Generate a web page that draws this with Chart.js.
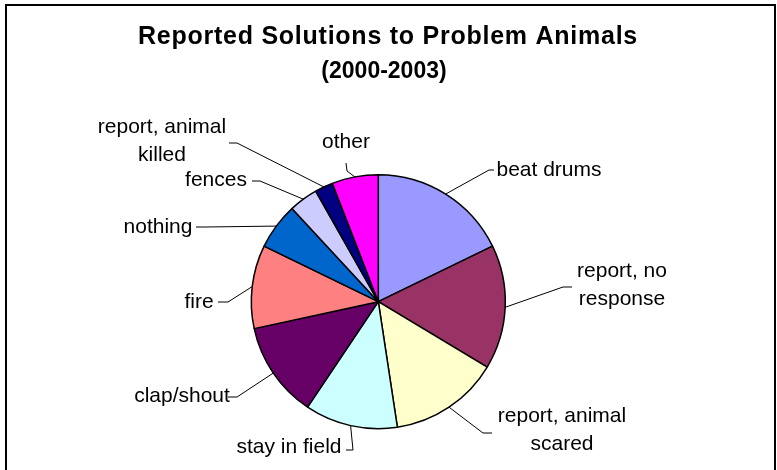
<!DOCTYPE html>
<html>
<head>
<meta charset="utf-8">
<title>Reported Solutions to Problem Animals</title>
<script src="https://cdn.jsdelivr.net/npm/chart.js@4.4.1/dist/chart.umd.min.js"></script>
<style>
  html, body { margin: 0; padding: 0; background: #fff; }
  canvas { display: block; }
</style>
</head>
<body>
<canvas id="pie" width="777" height="470"></canvas>
<script>
// categories (multi-line where the callout wraps) and their shares in percent
var categories = [
    ['beat drums'],
    ['report, no', 'response'],
    ['report, animal', 'scared'],
    ['stay in field'],
    ['clap/shout'],
    ['fire'],
    ['nothing'],
    ['fences'],
    ['report, animal', 'killed'],
    ['other']
];
var shares = [17.8, 15.8, 14.0, 11.8, 12.2, 10.6, 5.9, 3.7, 2.3, 5.9];
var sliceColors = ['#9999FF', '#993366', '#FFFFCC', '#CCFFFF', '#660066',
                   '#FF8080', '#0066CC', '#CCCCFF', '#000080', '#FF00FF'];
var titleLines = ['Reported Solutions to Problem Animals', '(2000-2003)'];

// where each callout sits: text centre (tx, ty), elbow of the leader (ex, ey), end of the stub (sx, sy)
var callouts = [
    {tx: 549, ty: 170, ex: 489, ey: 170, sx: 494, sy: 170},
    {tx: 622, ty: 271, ex: 563, ey: 287, sx: 572, sy: 287},
    {tx: 562, ty: 416, ex: 483, ey: 433, sx: 492, sy: 433},
    {tx: 289, ty: 447, ex: 353, ey: 450, sx: 346, sy: 450},
    {tx: 182, ty: 396, ex: 237, ey: 397, sx: 228, sy: 397},
    {tx: 199, ty: 302, ex: 228, ey: 302, sx: 218, sy: 302},
    {tx: 158, ty: 227, ex: 205, ey: 227, sx: 196, sy: 227},
    {tx: 216, ty: 180, ex: 260, ey: 181, sx: 252, sy: 181},
    {tx: 162, ty: 127, ex: 237, ey: 143, sx: 229, sy: 143},
    {tx: 346, ty: 142, ex: 347, ey: 171, sx: 346, sy: 163}
];

var FONT = '"Liberation Sans", Arial, sans-serif';

var frameAndTitle = {
    id: 'frameAndTitle',
    beforeDraw: function(chart) {
        var c = chart.ctx;
        c.save();
        c.fillStyle = '#fff';
        c.fillRect(0, 0, chart.width, chart.height);
        c.strokeStyle = '#000';
        c.lineWidth = 2;
        c.strokeRect(6, 5, 769, 480);
        c.fillStyle = '#000';
        c.textAlign = 'center';
        c.textBaseline = 'alphabetic';
        c.font = 'bold 25px ' + FONT;
        c.letterSpacing = '0.75px';
        c.fillText(titleLines[0], 388, 44);
        c.font = 'bold 23px ' + FONT;
        c.letterSpacing = '0px';
        c.fillText(titleLines[1], 384, 78);
        c.restore();
    }
};

var callOutLabels = {
    id: 'callOutLabels',
    afterDraw: function(chart) {
        var c = chart.ctx;
        var arcs = chart.getDatasetMeta(0).data;
        c.save();
        c.strokeStyle = '#000';
        c.lineWidth = 1;
        c.fillStyle = '#000';
        c.font = '21px ' + FONT;
        c.textAlign = 'center';
        c.textBaseline = 'middle';
        arcs.forEach(function(arc, i) {
            var p = arc.getProps(['x', 'y', 'startAngle', 'endAngle', 'outerRadius'], true);
            var mid = (p.startAngle + p.endAngle) / 2;
            var px = p.x + Math.cos(mid) * p.outerRadius;
            var py = p.y + Math.sin(mid) * p.outerRadius;
            var co = callouts[i];
            c.beginPath();
            c.moveTo(px, py);
            c.lineTo(co.ex, co.ey);
            c.lineTo(co.sx, co.sy);
            c.stroke();
            var lines = chart.data.labels[i];
            lines.forEach(function(t, k) {
                c.fillText(t, co.tx, co.ty + k * 28);
            });
        });
        c.restore();
    }
};

new Chart(document.getElementById('pie'), {
    type: 'pie',
    data: {
        labels: categories,
        datasets: [{
            data: shares,
            backgroundColor: sliceColors,
            borderColor: '#000',
            borderWidth: 1.5
        }]
    },
    options: {
        responsive: false,
        animation: false,
        radius: 127,
        layout: { padding: { left: 200, right: 220.4, top: 160, bottom: 26.6 } },
        plugins: {
            legend: { display: false },
            title: { display: false },
            tooltip: { enabled: false }
        }
    },
    plugins: [frameAndTitle, callOutLabels]
});
</script>
</body>
</html>
